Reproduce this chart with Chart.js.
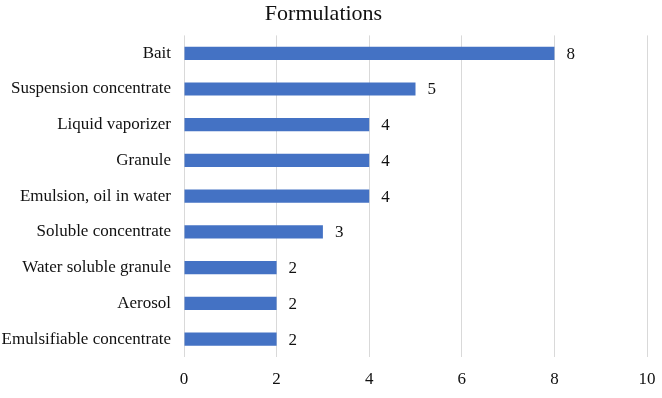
<!DOCTYPE html>
<html>
<head>
<meta charset="utf-8">
<script src="https://cdn.jsdelivr.net/npm/chart.js@4"></script>
<style>
  html, body { margin: 0; padding: 0; background: #fff; }
  #wrap { width: 662px; height: 398px; }
</style>
</head>
<body>
<div id="wrap"><canvas id="chart"></canvas></div>
<script>
const categories = ['Bait', 'Suspension concentrate', 'Liquid vaporizer', 'Granule',
    'Emulsion, oil in water', 'Soluble concentrate', 'Water soluble granule',
    'Aerosol', 'Emulsifiable concentrate'];
const counts = [8, 5, 4, 4, 4, 3, 2, 2, 2];
const xTicks = [0, 2, 4, 6, 8, 10];

const serif = '"Liberation Serif", "Times New Roman", serif';

// draws the value just right of each bar end
const valueLabels = {
    id: 'valueLabels',
    afterDatasetsDraw(chart) {
        const ctx = chart.ctx;
        const meta = chart.getDatasetMeta(0);
        ctx.save();
        ctx.font = '17px ' + serif;
        ctx.fillStyle = '#111';
        ctx.textAlign = 'left';
        ctx.textBaseline = 'middle';
        meta.data.forEach((bar, i) => {
            ctx.fillText(String(counts[i]), bar.x + 12, bar.y + 1);
        });
        ctx.restore();
    }
};

new Chart(document.getElementById('chart').getContext('2d'), {
    type: 'bar',
    data: {
        labels: categories,
        datasets: [{
            data: counts,
            backgroundColor: '#4472C4',
            borderWidth: 0,
            categoryPercentage: 1,
            barPercentage: 0.37
        }]
    },
    options: {
        indexAxis: 'y',
        responsive: true,
        maintainAspectRatio: false,
        animation: false,
        layout: { padding: { left: 0, right: 15, top: 1, bottom: 0 } },
        plugins: {
            legend: { display: false },
            tooltip: { enabled: false },
            title: {
                display: true,
                text: 'Formulations',
                color: '#111',
                font: { family: serif, size: 22, weight: 'normal' },
                padding: { top: 0, bottom: 8 }
            }
        },
        scales: {
            x: {
                min: 0,
                max: 10,
                afterBuildTicks(axis) { axis.ticks = xTicks.map(v => ({ value: v })); },
                afterFit(axis) {
                    axis.height = 41;
                    axis.paddingRight = 0;
                    axis.paddingLeft = 0;
                },
                grid: { color: '#d9d9d9', drawTicks: false },
                border: { display: false },
                ticks: {
                    color: '#111',
                    padding: 12,
                    font: { family: serif, size: 17 }
                }
            },
            y: {
                grid: { display: false },
                border: { display: false },
                afterFit(axis) { axis.width = 184; },
                ticks: {
                    color: '#111',
                    padding: 5,
                    font: { family: serif, size: 17 }
                }
            }
        }
    },
    plugins: [valueLabels]
});
</script>
</body>
</html>
